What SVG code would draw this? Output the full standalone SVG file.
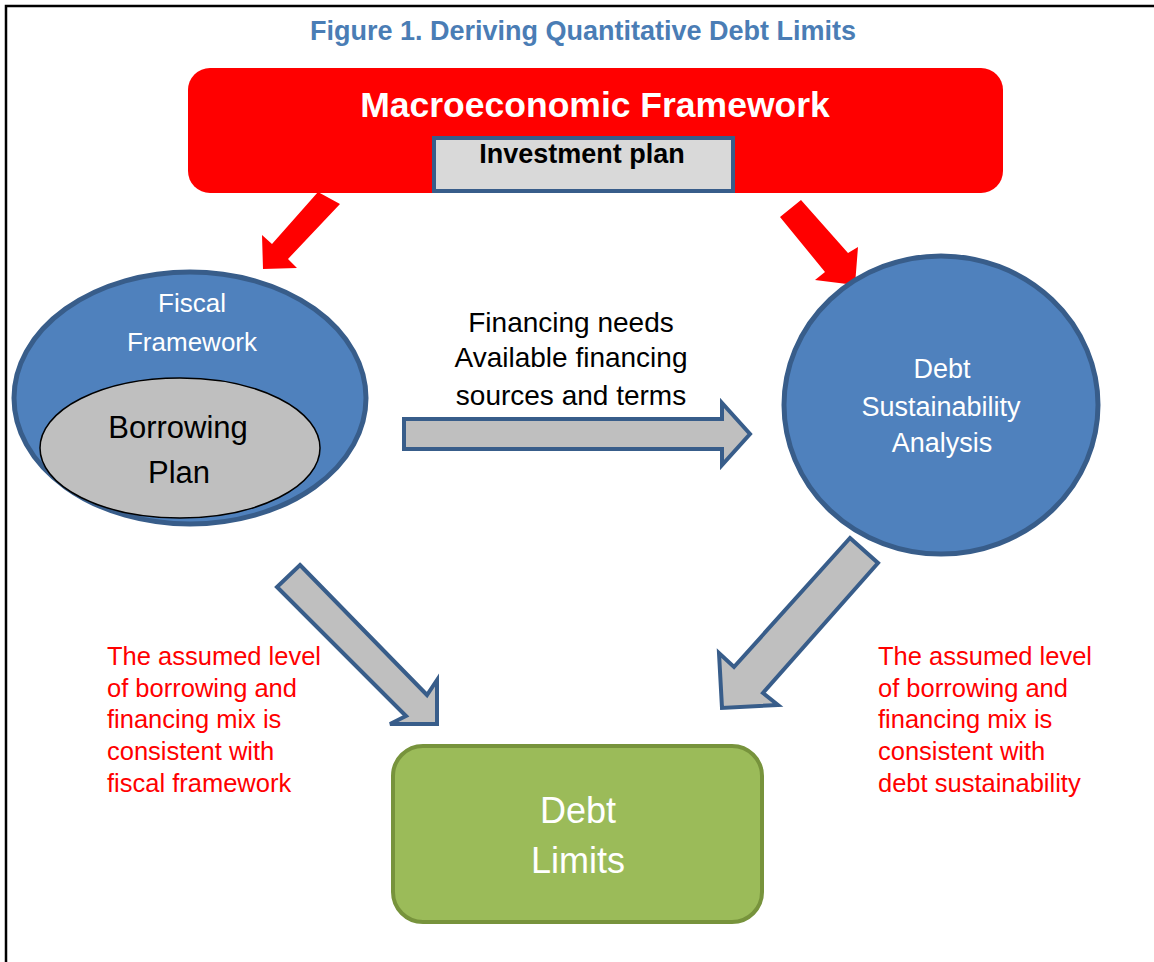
<svg xmlns="http://www.w3.org/2000/svg" width="1154" height="962" viewBox="0 0 1154 962">
<style>
text{font-family:"Liberation Sans",Arial,sans-serif;text-anchor:middle}
.wt{fill:#fff}
.red{fill:#FF0000;text-anchor:start;font-size:25.5px}
.blue{fill:#4F81BD;stroke:#385D8A;stroke-width:5}
.garrow{fill:#BFBFBF;stroke:#385D8A;stroke-width:4;stroke-linejoin:miter}
.rarrow{fill:#FF0000}
</style>
<rect x="0" y="0" width="1154" height="962" fill="#fff"/>
<path d="M6,962 V6 H1154" fill="none" stroke="#000" stroke-width="2.5"/>
<text x="583" y="40" font-size="27" font-weight="bold" fill="#4A7DB5">Figure 1. Deriving Quantitative Debt Limits</text>
<g id="connectors">
<polygon class="rarrow" points="263,269 262,235 272,244 318,192 340,204 288,259 297,268"/>
<polygon class="rarrow" points="780,217 801,200 848,253 858,247 855,285 815,280 825,272"/>
<polygon class="garrow" points="404,419 722,419 722,403 750,434 722,465 722,449 404,449"/>
<polygon class="garrow" points="300,565 427,695 437,680 437,724 390,724 406,716 277,587"/>
<polygon class="garrow" points="850,538 878,563 763,693 778,705 722,708 719,653 734,667"/>
</g>
<g id="macro">
<rect x="188" y="68" width="815" height="125" rx="22" fill="#FF0000"/>
<text class="wt" x="595" y="117" font-size="35.5" font-weight="bold">Macroeconomic Framework</text>
</g>
<g id="investment">
<rect x="434" y="138" width="299" height="53" fill="#D9D9D9" stroke="#385D8A" stroke-width="4"/>
<text x="582" y="163" font-size="27" font-weight="bold" fill="#000">Investment plan</text>
</g>
<g id="fiscal">
<ellipse class="blue" cx="190" cy="398" rx="176" ry="126"/>
<text class="wt" x="192" y="312" font-size="26">Fiscal</text>
<text class="wt" x="192" y="351" font-size="26">Framework</text>
</g>
<g id="borrowing">
<ellipse cx="180" cy="448" rx="140" ry="70" fill="#BFBFBF" stroke="#000" stroke-width="1.5"/>
<text x="178" y="438" font-size="31" fill="#000">Borrowing</text>
<text x="179" y="483" font-size="31" fill="#000">Plan</text>
</g>
<g id="dsa">
<ellipse class="blue" cx="941" cy="405" rx="157" ry="149"/>
<text class="wt" x="942" y="378" font-size="27">Debt</text>
<text class="wt" x="941" y="416" font-size="27">Sustainability</text>
<text class="wt" x="942" y="452" font-size="27">Analysis</text>
</g>
<g id="financing-label">
<text x="571" y="332" font-size="28" fill="#000">Financing needs</text>
<text x="571" y="367" font-size="28" fill="#000">Available financing</text>
<text x="571" y="405" font-size="28" fill="#000">sources and terms</text>
</g>
<g id="left-note">
<text class="red" x="107" y="665">The assumed level</text>
<text class="red" x="107" y="697">of borrowing and</text>
<text class="red" x="107" y="728">financing mix is</text>
<text class="red" x="107" y="760">consistent with</text>
<text class="red" x="107" y="792">fiscal framework</text>
</g>
<g id="right-note">
<text class="red" x="878" y="665">The assumed level</text>
<text class="red" x="878" y="697">of borrowing and</text>
<text class="red" x="878" y="728">financing mix is</text>
<text class="red" x="878" y="760">consistent with</text>
<text class="red" x="878" y="792">debt sustainability</text>
</g>
<g id="debt-limits">
<rect x="393" y="746" width="369" height="176" rx="30" fill="#9BBB59" stroke="#77933C" stroke-width="4"/>
<text class="wt" x="578" y="823" font-size="36">Debt</text>
<text class="wt" x="578" y="873" font-size="36">Limits</text>
</g>
</svg>
